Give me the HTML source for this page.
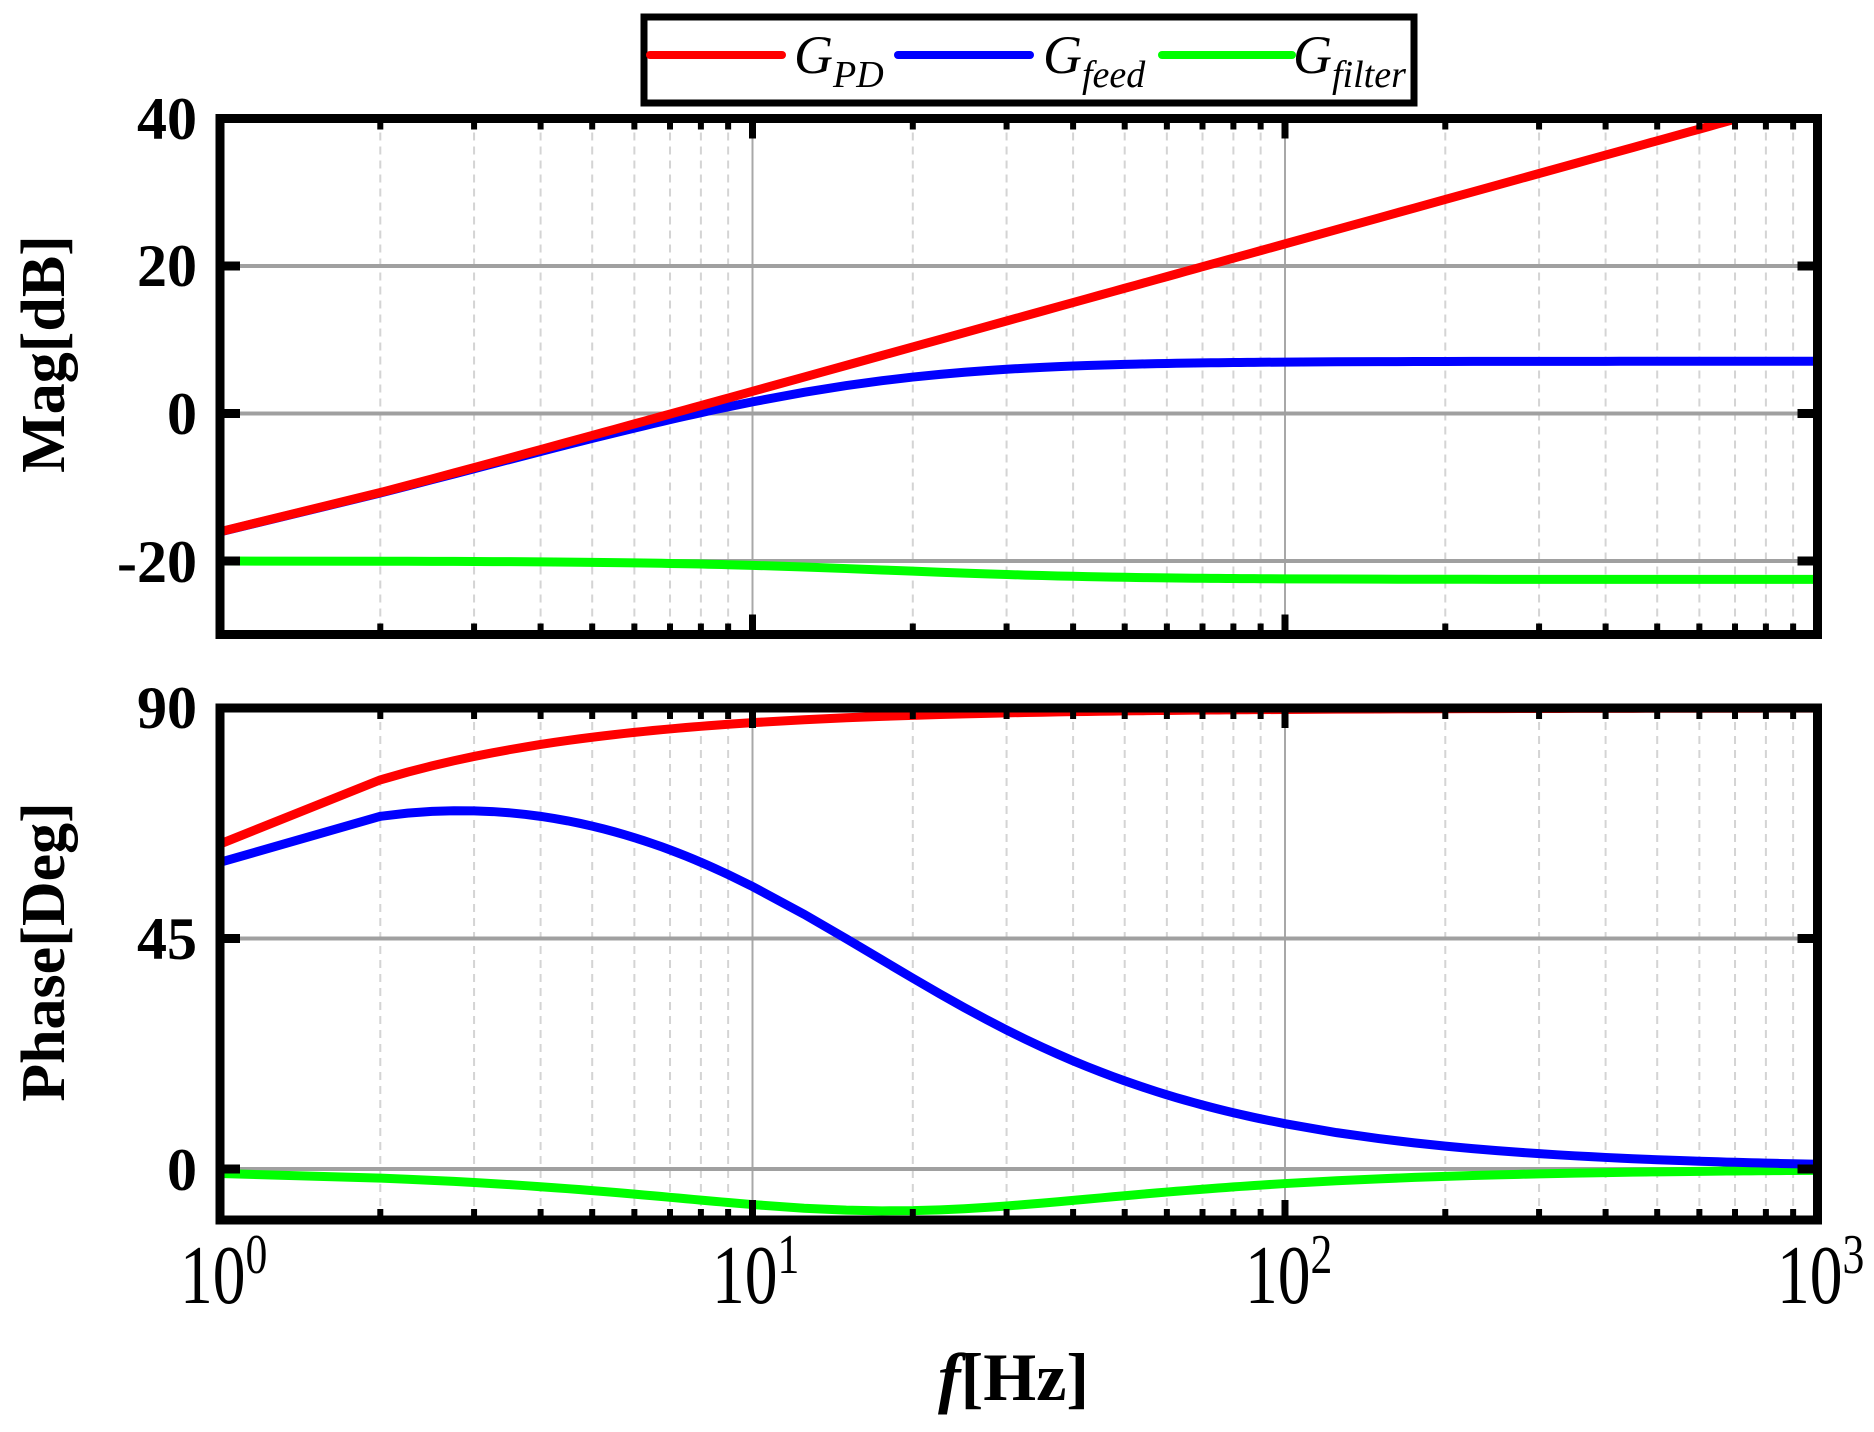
<!DOCTYPE html>
<html><head><meta charset="utf-8"><style>
html,body{margin:0;padding:0;background:#fff;}
svg{display:block;}
</style></head><body>
<svg id="s" width="1874" height="1432" xmlns="http://www.w3.org/2000/svg" font-family="Liberation Serif, serif">
<defs>
<clipPath id="c1"><rect x="220" y="118.5" width="1597.5" height="516"/></clipPath>
<clipPath id="c2"><rect x="220" y="708" width="1597.5" height="512"/></clipPath>
</defs>
<g id="grid"></g>
<g id="curves"></g>
<g id="axes"></g>
<g font-weight="bold" font-size="60" text-anchor="end">
<text x="197" y="139">40</text>
<text x="197" y="286">20</text>
<text x="197" y="434">0</text>
<text x="197" y="582">-20</text>
<text x="197" y="728">90</text>
<text x="197" y="959">45</text>
<text x="197" y="1190">0</text>
</g>
<g font-size="84">
<text transform="translate(180,1303) scale(0.78,1)">10<tspan font-size="56" dy="-30">0</tspan></text>
<text transform="translate(712,1303) scale(0.78,1)">10<tspan font-size="56" dy="-30">1</tspan></text>
<text transform="translate(1245,1303) scale(0.78,1)">10<tspan font-size="56" dy="-30">2</tspan></text>
<text transform="translate(1777,1303) scale(0.78,1)">10<tspan font-size="56" dy="-30">3</tspan></text>
</g>
<text x="938" y="1400" font-size="68" font-weight="bold"><tspan font-style="italic">f</tspan>[Hz]</text>
<text transform="translate(64,354) rotate(-90)" text-anchor="middle" font-size="62" font-weight="bold">Mag[dB]</text>
<text transform="translate(64,952) rotate(-90)" text-anchor="middle" font-size="62" font-weight="bold">Phase[Deg]</text>
<rect x="644" y="17" width="770" height="86" fill="#fff" stroke="#000" stroke-width="7"/>
<g stroke-width="8" stroke-linecap="round">
<line x1="650" y1="55" x2="782" y2="55" stroke="#ff0000"/>
<line x1="898" y1="55" x2="1030" y2="55" stroke="#0000ff"/>
<line x1="1162" y1="55" x2="1292" y2="55" stroke="#00ff00"/>
</g>
<g font-style="italic" font-size="54">
<text x="794" y="73">G<tspan font-size="38" dy="14">PD</tspan></text>
<text x="1043" y="73">G<tspan font-size="38" dy="14">feed</tspan></text>
<text x="1293" y="73">G<tspan font-size="38" dy="14">filter</tspan></text>
</g>
</svg>
<script>
var NS="http://www.w3.org/2000/svg";
function el(p,t,a){var e=document.createElementNS(NS,t);for(var k in a)e.setAttribute(k,a[k]);p.appendChild(e);return e;}
var X0=220,X1=1817.5,D=(X1-X0)/3;
function fx(f){return X0+Math.log10(f)*D;}
var plots=[{t:118.5,b:634.5,maj:[266,413.5,561]},{t:708,b:1220,maj:[938.5,1169]}];
var g=document.getElementById('grid'),ax=document.getElementById('axes');
plots.forEach(function(p){
 for(var k=0;k<3;k++)for(var d=2;d<=9;d++){var x=fx(d*Math.pow(10,k));
  el(g,'line',{x1:x,y1:p.t,x2:x,y2:p.b,stroke:'#d4d4d4','stroke-width':2,'stroke-dasharray':'8,6'});
  el(ax,'line',{x1:x,y1:p.t,x2:x,y2:p.t+11,stroke:'#000','stroke-width':6});
  el(ax,'line',{x1:x,y1:p.b,x2:x,y2:p.b-11,stroke:'#000','stroke-width':6});}
 for(var k=1;k<3;k++){var x=fx(Math.pow(10,k));
  el(g,'line',{x1:x,y1:p.t,x2:x,y2:p.b,stroke:'#a8a8a8','stroke-width':2});
  el(ax,'line',{x1:x,y1:p.t,x2:x,y2:p.t+20,stroke:'#000','stroke-width':7});
  el(ax,'line',{x1:x,y1:p.b,x2:x,y2:p.b-20,stroke:'#000','stroke-width':7});}
 p.maj.forEach(function(y){
  el(g,'line',{x1:X0,y1:y,x2:X1,y2:y,stroke:'#a0a0a0','stroke-width':4});
  el(ax,'line',{x1:X0,y1:y,x2:X0+20,y2:y,stroke:'#000','stroke-width':9});
  el(ax,'line',{x1:X1,y1:y,x2:X1-20,y2:y,stroke:'#000','stroke-width':9});});
 el(ax,'rect',{x:X0,y:p.t,width:X1-X0,height:p.b-p.t,fill:'none',stroke:'#000','stroke-width':9});
});
function mul(a,b){return [a[0]*b[0]-a[1]*b[1],a[0]*b[1]+a[1]*b[0]];}
function div(a,b){var d=b[0]*b[0]+b[1]*b[1];return [(a[0]*b[0]+a[1]*b[1])/d,(a[1]*b[0]-a[0]*b[1])/d];}
var C=Math.pow(10,-17/20);
function PD(f){return [0.5*C,f*C];}
function FEED(f){return div(PD(f),[1,f/16]);}
function FIL(f){return mul([0.1,0],div([1,f/20.8],[1,f/15.6]));}
var fs=[];for(var k=0;k<3;k++)for(var d=1;d<=9;d+=(k==0&&d<2?1:0.25))fs.push(d*Math.pow(10,k));fs.push(1000);
var cg=document.getElementById('curves');
function my(v){return 118.5+(40-v)*7.375;}
function py(v){return 708+(90-v)*5.12;}
[[FIL,'#00ff00'],[FEED,'#0000ff'],[PD,'#ff0000']].forEach(function(s){
 var m='',ph='';
 fs.forEach(function(f,i){var z=s[0](f);var mag=20*Math.log10(Math.hypot(z[0],z[1]));var a=Math.atan2(z[1],z[0])*180/Math.PI;
  m+=(i?'L':'M')+fx(f).toFixed(2)+','+my(mag).toFixed(2);ph+=(i?'L':'M')+fx(f).toFixed(2)+','+py(a).toFixed(2);});
 el(cg,'path',{d:m,fill:'none',stroke:s[1],'stroke-width':9,'clip-path':'url(#c1)'});
 el(cg,'path',{d:ph,fill:'none',stroke:s[1],'stroke-width':9,'clip-path':'url(#c2)'});
});
</script>
</body></html>
